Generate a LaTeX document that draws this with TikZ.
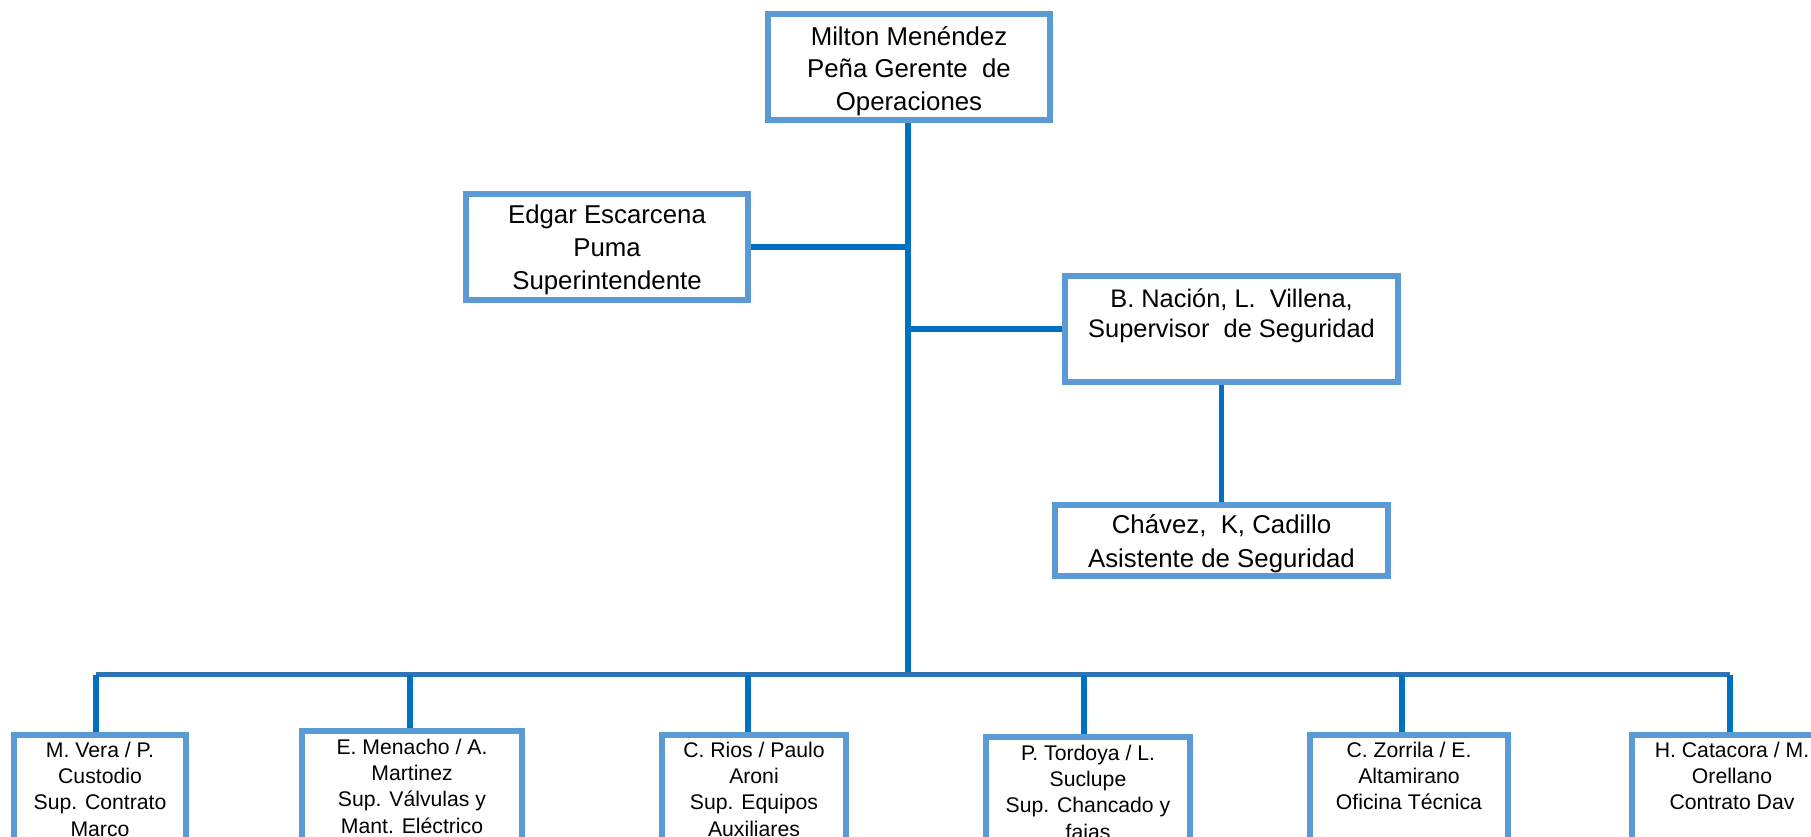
\documentclass[tikz,border=0pt]{standalone}
\usepackage{fontspec}
\setmainfont{Liberation Sans}
\usetikzlibrary{backgrounds}
\definecolor{boxblue}{HTML}{5B9BD5}
\definecolor{linkblue}{HTML}{0070C0}
\definecolor{busblue}{HTML}{2E75B6}
\newcommand{\tbx}[4]{\parbox[c][#2][t]{#1}{\centering\rule{0pt}{#3}#4}}
\tikzset{
  orgbox/.style={draw=boxblue, line width=3pt, fill=white, inner sep=0pt, align=center},
  link/.style={draw=linkblue, line width=2.75pt},
  bus/.style={draw=busblue, line width=2.5pt},
  smalltext/.style={font=\fontsize{10.6}{13.2}\selectfont},
}
\begin{document}
\begin{tikzpicture}[x=0.5pt,y=-0.5pt]
\useasboundingbox (0,0) rectangle (1811,836);
% upper boxes
\node[orgbox,font=\fontsize{12.9}{16.4}\selectfont] (gm) at (909,67)
  {\tbx{141pt}{53pt}{15.5pt}{Milton Menéndez\\Peña Gerente\ \ de\\Operaciones}};
\node[orgbox,font=\fontsize{12.9}{16.7}\selectfont] (edgar) at (607,247)
  {\tbx{141pt}{53pt}{14.5pt}{Edgar Escarcena\\Puma\\Superintendente}};
\node[orgbox,font=\fontsize{12.7}{15}\selectfont] (nacion) at (1231.5,329)
  {\tbx{166.5pt}{53pt}{15.5pt}{B. Nación, L.\ \ Villena,\\Supervisor\ \ de Seguridad}};
\node[orgbox,font=\fontsize{12.9}{17}\selectfont] (chavez) at (1221.5,540.5)
  {\tbx{166.5pt}{35.5pt}{14pt}{Chávez,\ \ K, Cadillo\\Asistente de Seguridad}};
% bottom row
\node[orgbox,smalltext,anchor=north] (vera) at (100,732)
  {\tbx{86pt}{74pt}{11pt}{M. Vera / P.\\Custodio\\Sup. Contrato\\Marco}};
\node[orgbox,smalltext,anchor=north] (menacho) at (412,728)
  {\tbx{110pt}{76pt}{11.5pt}{E. Menacho / A.\\Martinez\\Sup. Válvulas y\\Mant. Eléctrico}};
\node[orgbox,smalltext,anchor=north] (rios) at (754,732)
  {\tbx{92pt}{74pt}{11pt}{C. Rios / Paulo\\Aroni\\Sup. Equipos\\Auxiliares}};
\node[orgbox,smalltext,anchor=north] (tordoya) at (1088,734)
  {\tbx{102pt}{73pt}{11.5pt}{P. Tordoya / L.\\Suclupe\\Sup. Chancado y\\fajas}};
\node[orgbox,smalltext,anchor=north] (zorrila) at (1409,732)
  {\tbx{99pt}{74pt}{11pt}{C. Zorrila / E.\\Altamirano\\Oficina Técnica}};
\node[orgbox,smalltext,anchor=north] (catacora) at (1732,732)
  {\tbx{100pt}{74pt}{11pt}{H. Catacora / M.\\Orellano\\Contrato Dav}};
% bus coordinates
\coordinate (bm) at (908,674.5);
\coordinate (b1) at (96,674.5);
\coordinate (b2) at (410,674.5);
\coordinate (b3) at (748,674.5);
\coordinate (b4) at (1084,674.5);
\coordinate (b5) at (1402,674.5);
\coordinate (b6) at (1730,674.5);
\begin{pgfonlayer}{background}
\draw[link] (bm |- gm.south) -- (bm);
\draw[link] (edgar.east) -- (edgar.east -| bm);
\draw[link] (nacion.west) -- (nacion.west -| bm);
\draw[link] (chavez.north) -- (chavez.north |- nacion.south);
\draw[bus] (b1) -- (b6);
\draw[link] (b1) -- (b1 |- vera.north);
\draw[link] (b2) -- (b2 |- menacho.north);
\draw[link] (b3) -- (b3 |- rios.north);
\draw[link] (b4) -- (b4 |- tordoya.north);
\draw[link] (b5) -- (b5 |- zorrila.north);
\draw[link] (b6) -- (b6 |- catacora.north);
\end{pgfonlayer}
\end{tikzpicture}
\end{document}
